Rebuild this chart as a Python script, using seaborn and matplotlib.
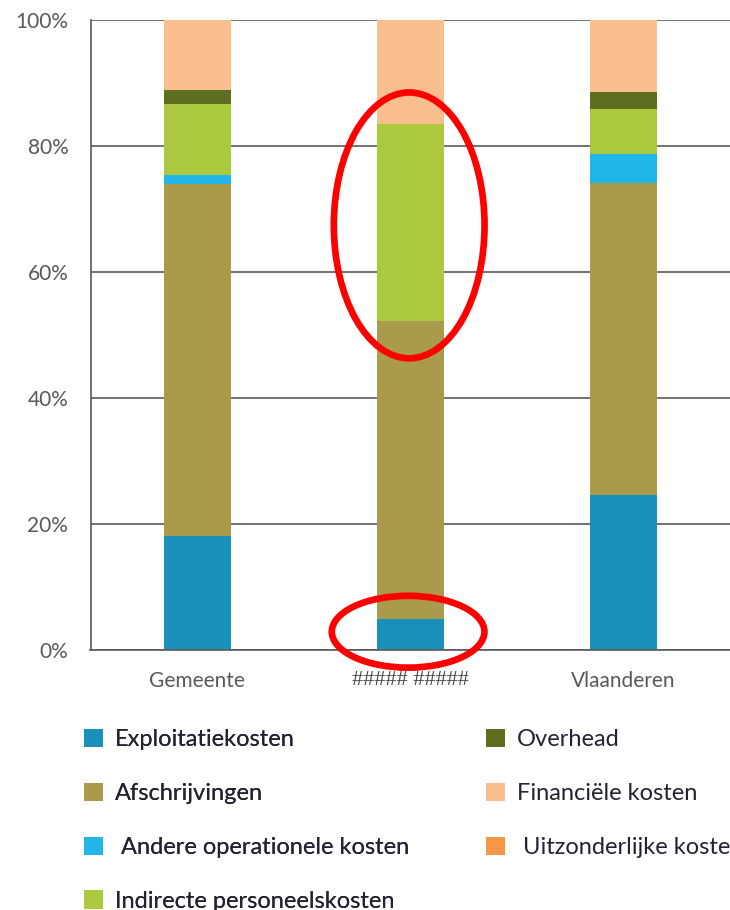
import numpy as np
import seaborn as sns
from matplotlib import pyplot as plt
from matplotlib.patches import Ellipse, Patch
from matplotlib.ticker import FixedLocator, PercentFormatter

# categories on the x axis
regions = ["Gemeente", "##### #####", "Vlaanderen"]

# cost components, bottom to top of the stack
components = ["Exploitatiekosten", "Afschrijvingen", " Andere operationele kosten",
              "Indirecte personeelskosten", "Overhead", "Financiële kosten",
              " Uitzonderlijke kosten"]
colors = ["#1A8FBA", "#AA9A4B", "#22B5E8", "#ABC93F", "#5E6E1F", "#F9BE8E", "#F79646"]

# share (%) per component, one value per region
exploitatie = [18.1, 4.9, 24.6]
afschrijvingen = [55.9, 47.3, 49.6]
andere = [1.4, 0.0, 4.5]
indirecte = [11.2, 31.3, 7.1]
overhead = [2.3, 0.0, 2.7]
financieel = [11.1, 16.5, 11.5]
uitzonderlijk = [0.0, 0.0, 0.0]

values = np.array([exploitatie, afschrijvingen, andere, indirecte,
                   overhead, financieel, uitzonderlijk])
tops = values.cumsum(axis=0)

sns.set_style("white")
plt.rcParams["font.family"] = ["Lato", "DejaVu Sans"]

fig = plt.figure(figsize=(7.3, 9.1), dpi=100)
ax = fig.add_axes([90.5 / 730, 260 / 910, 1 - 90.5 / 730, 630 / 910])

# stacked bars: draw the tallest cumulative layer first, lower layers on top
for i in reversed(range(len(components))):
    sns.barplot(x=regions, y=tops[i], color=colors[i], saturation=1,
                width=0.314, linewidth=0, errorbar=None, ax=ax, zorder=2)

grid_c = "#5a5a5a"
ax.set_xlim(-0.5, -0.5 + (730 - 90.5) / 216.5)
ax.set_ylim(0, 100)
ax.yaxis.set_major_locator(FixedLocator([0, 20, 40, 60, 80, 100]))
ax.yaxis.set_major_formatter(PercentFormatter(decimals=0))
ax.yaxis.grid(True, color=grid_c, linewidth=1.2)
ax.xaxis.grid(False)
ax.set_axisbelow(True)

for side in ["top", "right"]:
    ax.spines[side].set_visible(False)
for side in ["left", "bottom"]:
    ax.spines[side].set_color(grid_c)
    ax.spines[side].set_linewidth(1.2)

ax.set_xticks(range(len(regions)))
ax.set_xticks([0.5, 1.5, 2.5], minor=True)
ax.tick_params(axis="x", which="major", length=0, pad=15, labelsize=15, labelcolor="#595959")
ax.tick_params(axis="x", which="minor", length=5, width=1.2, color=grid_c, direction="out")
ax.tick_params(axis="y", length=7, width=1.2, color=grid_c, direction="out",
               pad=9, labelsize=15, labelcolor="#595959")
ax.set_xlabel("")
ax.set_ylabel("")
labels = ax.get_xticklabels()
labels[1].set_fontfamily(["Liberation Serif", "DejaVu Serif"])
labels[1].set_fontsize(16)
labels[1].set_color("#444444")

# red highlight rings around the middle bar
ax.add_patch(Ellipse((0.995, 67.4), 0.707, 42.2, fill=False, edgecolor="#FF0000",
                     linewidth=4.8, zorder=5, clip_on=False))
ax.add_patch(Ellipse((0.99, 2.9), 0.716, 11.4, fill=False, edgecolor="#FF0000",
                     linewidth=4.8, zorder=5, clip_on=False))

# legend in two columns below the chart
handles = [Patch(facecolor=c, edgecolor="none") for c in colors]
leg_kw = dict(loc="upper left", frameon=False, fontsize=17, labelcolor="#222233",
              handlelength=0.8, handleheight=0.8, handletextpad=0.5,
              labelspacing=1.38, borderpad=0, borderaxespad=0)
leg1 = fig.legend(handles[:4], components[:4], bbox_to_anchor=(84 / 730, 1 - 729 / 910), **leg_kw)
fig.add_artist(leg1)
fig.legend(handles[4:], components[4:], bbox_to_anchor=(486 / 730, 1 - 729 / 910), **leg_kw)

fig.savefig("out.png", dpi=100)
plt.close(fig)
